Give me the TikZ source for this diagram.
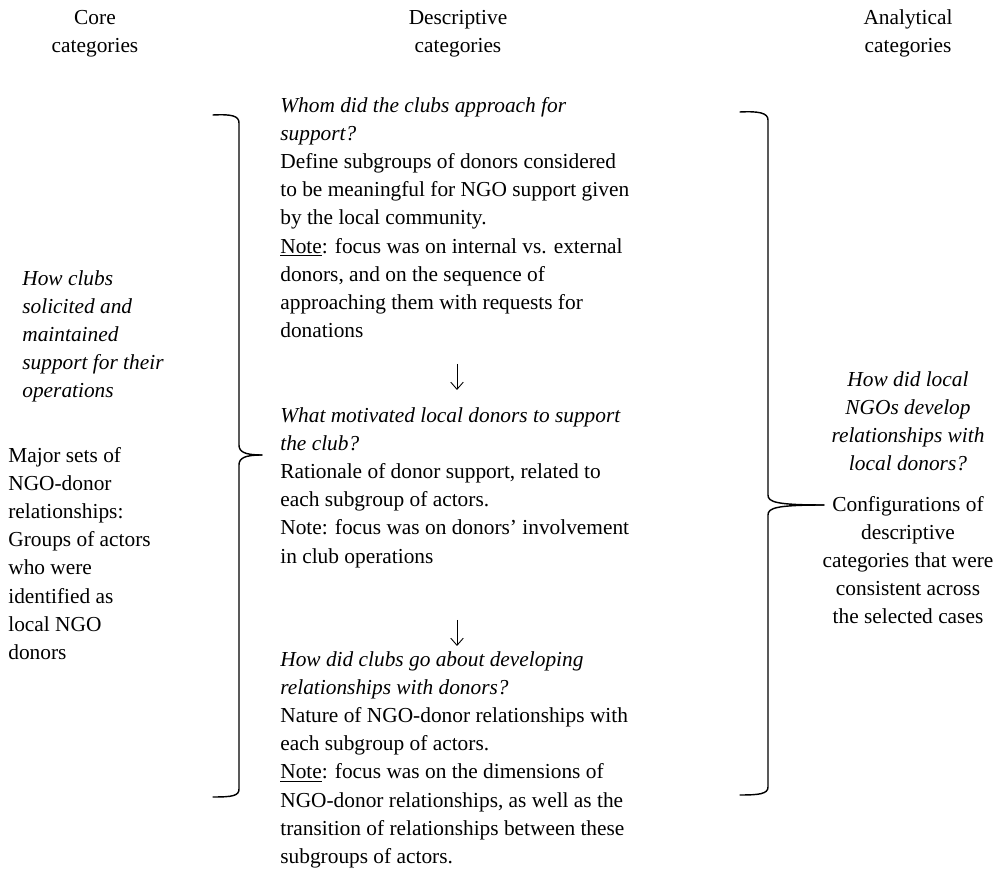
\documentclass[tikz,border=0pt]{standalone}
\usepackage{fontspec}
\setmainfont{Liberation Serif}
\usetikzlibrary{arrows.meta}

\begin{document}
\begin{tikzpicture}[x=0.5618pt,y=-0.5618pt,
    every node/.style={inner sep=0pt,font=\fontsize{12}{15.84}\selectfont},
    colhead/.style={anchor=north,align=center},
    sidecol/.style={anchor=north west,align=left},
    rightcol/.style={anchor=north,align=center},
    midcol/.style={anchor=north west,align=left},
    brace/.style={line width=0.8pt,line cap=round},
    flow/.style={-{Straight Barb[length=4pt,width=7pt]},line width=0.5pt}]
    \useasboundingbox (0,0) rectangle (1005,882);
    % column heads
    \node[colhead] (hcore) at (95,4) {\strut Core\\categories};
    \node[colhead] (hdesc) at (458,4) {\strut Descriptive\\categories};
    \node[colhead] (hana) at (908,4) {\strut Analytical\\categories};
    % descriptive column
    \node[midcol] (q1) at (280,92) {\strut\textit{Whom did the clubs approach for}\\
      \textit{support?}\\
      Define subgroups of donors considered\\
      to be meaningful for NGO support given\\
      by the local community.\\
      \underline{Note}: focus was on internal vs. external\\
      donors, and on the sequence of\\
      approaching them with requests for\\
      donations};
    \node[midcol] (q2) at (280,402) {\strut\textit{What motivated local donors to support}\\
      \textit{the club?}\\
      Rationale of donor support, related to\\
      each subgroup of actors.\\
      Note: focus was on donors’ involvement\\
      in club operations};
    \node[midcol] (q3) at (280,646) {\strut\textit{How did clubs go about developing}\\
      \textit{relationships with donors?}\\
      Nature of NGO-donor relationships with\\
      each subgroup of actors.\\
      \underline{Note}: focus was on the dimensions of\\
      NGO-donor relationships, as well as the\\
      transition of relationships between these\\
      subgroups of actors.};
    \coordinate (a1s) at (457,364); \coordinate (a1e) at (457,390);
    \coordinate (a2s) at (457,620); \coordinate (a2e) at (457,646);
    \draw[flow] (a1s) -- (a1e);
    \draw[flow] (a2s) -- (a2e);
    % core column
    \node[sidecol,font=\fontsize{12}{15.84}\selectfont\itshape] (coreq) at (22,265) {\strut How clubs\\
      solicited and\\
      maintained\\
      support for their\\
      operations};
    \node[sidecol] (coret) at (8,442) {\strut Major sets of\\
      NGO-donor\\
      relationships:\\
      Groups of actors\\
      who were\\
      identified as\\
      local NGO\\
      donors};
    % analytical column
    \node[rightcol,font=\fontsize{12}{15.84}\selectfont\itshape] (anaq) at (908,366) {\strut How did local\\
      NGOs develop\\
      relationships with\\
      local donors?};
    \node[rightcol] (anat) at (908,491) {\strut Configurations of\\
      descriptive\\
      categories that were\\
      consistent across\\
      the selected cases};
    % braces
    \draw[brace] (213,115) .. controls (232,114) and (239,116) .. (239,123) -- (239,445)
      .. controls (239,452) and (245,455) .. (262,455);
    \draw[brace] (262,455) .. controls (245,455) and (239,458) .. (239,465) -- (239,789)
      .. controls (239,796) and (232,797) .. (213,797);
    \draw[brace] (740,112) .. controls (759,111) and (768,113) .. (768,120) -- (768,495)
      .. controls (768,502) and (776,505) .. (824,505);
    \draw[brace] (824,505) .. controls (776,505) and (768,508) .. (768,515) -- (768,787)
      .. controls (768,794) and (759,795) .. (740,795);
\end{tikzpicture}
\end{document}
